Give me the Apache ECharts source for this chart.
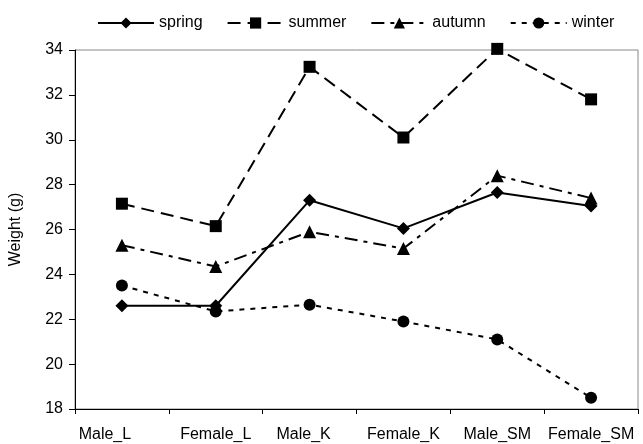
<!DOCTYPE html>
<html>
<head>
<meta charset="utf-8">
<script src="https://cdn.jsdelivr.net/npm/echarts@6/dist/echarts.min.js"></script>
<style>
  html, body { margin: 0; padding: 0; background: #fff; }
  #main { width: 643px; height: 444px; }
</style>
</head>
<body>
<div id="main"></div>
<script>
// categories on the x axis
var groups = ['Male_L', 'Female_L', 'Male_K', 'Female_K', 'Male_SM', 'Female_SM'];
// mean weight per season (g)
var spring = [22.6, 22.6, 27.3, 26.05, 27.65, 27.05];
var summer = [27.15, 26.15, 33.25, 30.1, 34.05, 31.8];
var autumn = [25.3, 24.35, 25.9, 25.15, 28.4, 27.4];
var winter = [23.5, 22.35, 22.65, 21.9, 21.1, 18.5];

var chart = echarts.init(document.getElementById('main'));

function mkSeries(name, data, symbol, size, dash) {
  return {
    name: name,
    type: 'line',
    data: data,
    symbol: symbol,
    symbolSize: size,
    showAllSymbol: true,
    clip: false,
    itemStyle: { color: '#000' },
    lineStyle: { color: '#000', width: 2, type: dash },
    emphasis: { disabled: true },
    animation: false
  };
}

// excel nudged a couple of the labels a bit left
var labelShift = { 'Male_L': 34, 'Male_K': 12 };
var xData = groups.map(function (g) {
  if (labelShift[g]) return { value: g, textStyle: { padding: [0, labelShift[g], 0, 0] } };
  return g;
});

chart.setOption({
  textStyle: { fontFamily: 'Liberation Sans, Arial, sans-serif' },
  legend: {
    top: 10,
    left: 92,
    itemWidth: 56,
    itemHeight: 14,
    itemGap: 24,
    lineStyle: { width: 2 },
    textStyle: { color: '#000', fontSize: 16 },
    data: ['spring', 'summer', 'autumn', 'winter']
  },
  grid: {
    left: 73, right: 5, top: 50, bottom: 35,
    show: true, borderColor: '#888', borderWidth: 1
  },
  xAxis: {
    type: 'category',
    data: xData,
    boundaryGap: true,
    axisLine: { lineStyle: { color: '#000', width: 1 } },
    axisTick: { show: true, length: 5, alignWithLabel: false, lineStyle: { color: '#000' } },
    axisLabel: { color: '#000', fontSize: 16, margin: 18, interval: 0 }
  },
  yAxis: {
    type: 'value',
    min: 18, max: 34, interval: 2,
    name: 'Weight (g)',
    nameLocation: 'middle',
    nameGap: 51,
    nameTextStyle: { color: '#000', fontSize: 16 },
    axisLine: { show: true, lineStyle: { color: '#000', width: 1 } },
    axisTick: { show: true, length: 6, lineStyle: { color: '#000' } },
    axisLabel: { color: '#000', fontSize: 16, margin: 12 },
    splitLine: { show: false }
  },
  series: [
    mkSeries('spring', spring, 'diamond', 13, 'solid'),
    mkSeries('summer', summer, 'rect', 12, [13, 7]),
    mkSeries('autumn', autumn, 'triangle', 13, [13, 6, 4, 6]),
    mkSeries('winter', winter, 'circle', 12, [5, 6])
  ]
});
</script>
</body>
</html>
